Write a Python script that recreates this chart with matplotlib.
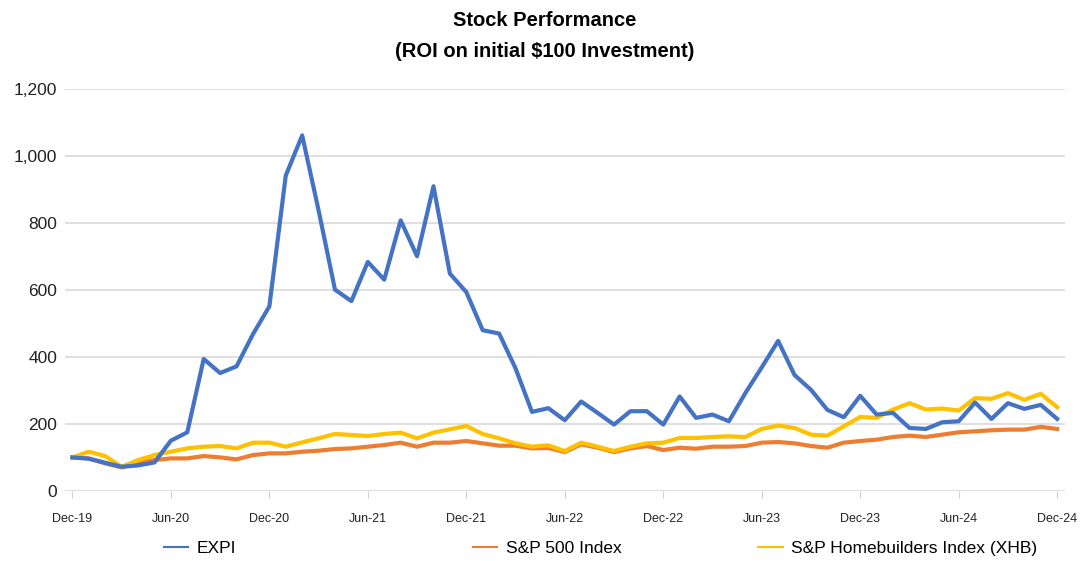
import numpy as np
import matplotlib
matplotlib.use('Agg')
import matplotlib.pyplot as plt
from matplotlib import font_manager

# monthly values, Dec-19 .. Dec-24 (ROI on $100)
expi = [100, 96, 84, 72, 76, 85, 150, 175, 394, 352, 372, 468, 551, 942, 1062,
        838, 601, 567, 684, 631, 808, 701, 910, 649, 594, 480, 470, 366, 236, 247,
        211, 267, 233, 198, 238, 238, 198, 282, 218, 228, 208, 292, 369, 448, 346,
        302, 242, 220, 284, 228, 233, 188, 185, 205, 208, 264, 215, 262, 245, 257,
        215]
sp500 = [100, 97, 82, 70, 84, 92, 97, 97, 104, 100, 94, 107, 112, 112, 117,
         120, 125, 127, 132, 137, 144, 132, 144, 144, 149, 142, 135, 135, 127, 128,
         116, 139, 129, 116, 127, 134, 122, 129, 126, 132, 132, 134, 144, 146, 142,
         134, 129, 144, 149, 153, 161, 165, 161, 168, 175, 178, 181, 183, 183, 191,
         185]
xhb = [100, 117, 104, 72, 92, 107, 117, 127, 132, 134, 127, 144, 144, 132, 145,
       157, 170, 167, 164, 170, 174, 157, 174, 184, 194, 170, 157, 142, 132, 136,
       119, 144, 132, 119, 132, 142, 144, 158, 158, 161, 163, 161, 185, 195, 188,
       168, 165, 193, 221, 218, 243, 262, 243, 246, 240, 277, 275, 292, 272, 290,
       250]
tick_labels = ['Dec-19', 'Jun-20', 'Dec-20', 'Jun-21', 'Dec-21', 'Jun-22',
               'Dec-22', 'Jun-23', 'Dec-23', 'Jun-24', 'Dec-24']
series_names = ['EXPI', 'S&P 500 Index', 'S&P Homebuilders Index (XHB)']

available = {f.name for f in font_manager.fontManager.ttflist}
if 'Liberation Sans Narrow' in available:
    plt.rcParams['font.family'] = ['Liberation Sans Narrow', 'DejaVu Sans']
else:
    plt.rcParams['font.family'] = ['Liberation Sans', 'DejaVu Sans']

colors = ['#4472C4', '#ED7D31', '#FFC000']

fig = plt.figure(figsize=(10.89, 5.61), dpi=100)
ax = fig.add_axes([0.06, 0.125, 0.918, 0.716])

months = np.arange(len(expi))
# blue on top, then yellow, orange at the back
lines = []
for vals, c, z in zip([expi, sp500, xhb], colors, [4, 2, 3]):
    ln, = ax.plot(months, vals, color=c, lw=3.0, zorder=z, solid_joinstyle='round')
    lines.append(ln)

ax.set_xlim(-0.43, 60.48)
ax.set_ylim(0, 1200)
ax.set_yticks(np.arange(0, 1201, 200))
ax.set_yticklabels(['{:,}'.format(v) for v in range(0, 1201, 200)], fontsize=12.5, color='#222222')
ax.set_xticks(np.arange(0, 61, 6))
ax.set_xticklabels(tick_labels, fontsize=9, color='#222222')
ax.tick_params(axis='y', length=0, pad=6)
ax.tick_params(axis='x', length=5, color='#d0d0d0', pad=11)
ax.grid(axis='y', color='#d9d9d9', lw=1.2)
ax.set_axisbelow(True)
for s in ax.spines.values():
    s.set_visible(False)

fig.text(0.5, 0.963, 'Stock Performance', ha='center', va='center',
         fontsize=14.5, fontweight='bold')
fig.text(0.5, 0.909, '(ROI on initial $100 Investment)', ha='center', va='center',
         fontsize=14.5, fontweight='bold')

# legend entries spread along the bottom
leg_x = [0.144, 0.428, 0.69]
for ln, name, lx in zip(lines, series_names, leg_x):
    h, = ax.plot([], [], color=ln.get_color(), lw=1.5)
    fig.legend([h], [name], loc='center left', bbox_to_anchor=(lx, 0.022),
               frameon=False, fontsize=12.5, handlelength=1.4, handletextpad=0.5,
               borderaxespad=0)

fig.savefig('out.png', dpi=100)
